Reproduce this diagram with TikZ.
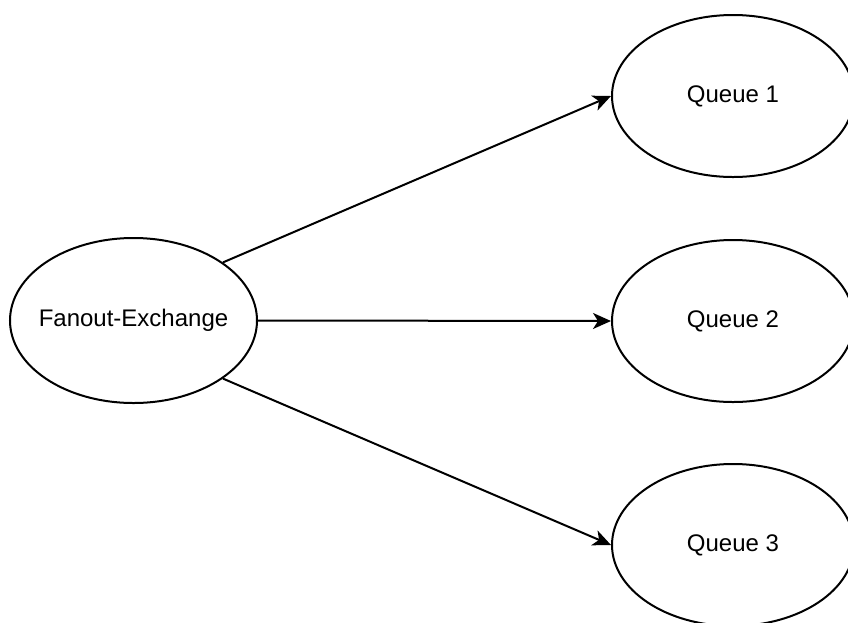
\documentclass[tikz,border=0pt]{standalone}
\usepackage{fontspec}
\setmainfont{Liberation Sans}
\usetikzlibrary{shapes.geometric,arrows.meta}
\begin{document}
\begin{tikzpicture}[x=1pt,y=-1pt,
  oval/.style={ellipse,draw=black,line width=2pt,inner sep=0pt},
  caption/.style={font=\fontsize{24}{28}\selectfont},
  queue/.style={oval,minimum width=242pt,minimum height=162pt},
  link/.style={line width=2pt,-{Stealth[length=18pt,width=16pt,inset=5pt]}}]
  \useasboundingbox (0,0) rectangle (848,622);
  \clip (0,0) rectangle (848,622);
  % the ellipses carry their text as centred labels, so the text does not widen them
  \node[oval,minimum width=247pt,minimum height=165pt,
        label={[caption]center:Fanout-Exchange}] (fx) at (133.5,320.5) {};
  \node[queue,label={[caption]center:Queue 1}] (q1) at (733,96) {};
  \node[queue,label={[caption]center:Queue 2}] (q2) at (733,321) {};
  \node[queue,label={[caption]center:Queue 3}] (q3) at (733,545) {};
  \draw[link] (fx.33) -- (q1.west);
  \draw[link] (fx.east) -- (q2.west);
  \draw[link] (fx.-33) -- (q3.west);
\end{tikzpicture}
\end{document}
